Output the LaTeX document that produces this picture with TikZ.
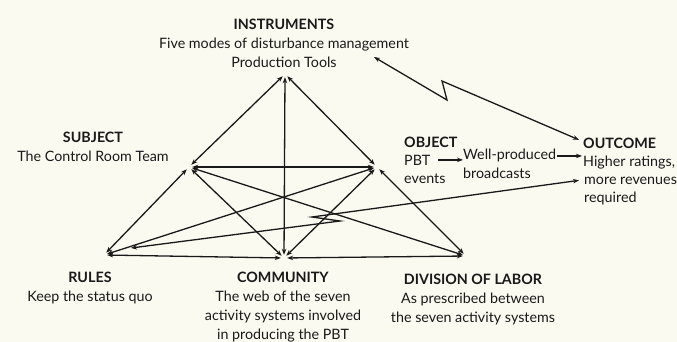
\documentclass[tikz,border=0pt]{standalone}
\usepackage{fontspec}
\setmainfont{Lato}
\usetikzlibrary{arrows.meta}
\definecolor{paper}{RGB}{251,250,241}
\definecolor{ink}{RGB}{25,25,25}
\begin{document}
\begin{tikzpicture}[x=1pt,y=-1pt,
  v/.style={circle,inner sep=0pt,minimum size=6pt},
  lk/.style={{Stealth[length=6pt,width=4.5pt]}-{Stealth[length=6pt,width=4.5pt]},line width=1.3pt,draw=ink},
  ar/.style={-{Stealth[length=6pt,width=4.5pt]},line width=1.3pt,draw=ink},
  blk/.style={font=\fontsize{14.3}{19}\selectfont,align=center,inner sep=0pt,text=ink},
  ln/.style={font=\fontsize{14.3}{19}\selectfont,inner sep=0pt,text=ink,anchor=base west},
]
\fill[paper] (0,0) rectangle (677,342);
\useasboundingbox (0,0) rectangle (677,342);

% vertices
\node[v] (ins) at (285,74) {};
\node[v] (sub) at (189,167) {};
\node[v] (obj) at (377,167) {};
\node[v] (rul) at (104,255) {};
\node[v] (com) at (284,258) {};
\node[v] (div) at (466,256) {};

% labels
\node[blk] (insL) at (284,43) {\textbf{INSTRUMENTS}\\Five modes of disturbance management\\Production Tools};
\node[blk] (subL) at (93,147) {\textbf{SUBJECT}\\The Control Room Team};
\node[blk] (rulL) at (90,288) {\textbf{RULES}\\Keep the status quo};
\node[blk] (comL) at (283,307) {\textbf{COMMUNITY}\\The web of the seven\\activity systems involved\\in producing the PBT};
\node[blk] (divL) at (473,299) {\textbf{DIVISION OF LABOR}\\As prescribed between\\the seven activity systems};

\node[ln] (objT) at (404,147) {\textbf{OBJECT}};
\node[ln] (pbt) at (404,165) {PBT};
\node[ln] (ev) at (404,183) {events};
\node[ln] (wp) at (463,160) {Well-produced};
\node[ln] (bc) at (463,178) {broadcasts};
\node[ln] (oc) at (583,148) {\textbf{OUTCOME}};
\node[ln] (hr) at (583,166) {Higher ratings,};
\node[ln] (mr) at (584,184) {more revenues};
\node[ln] (rq) at (584,202) {required};

% object -> outcome chain
\draw[ar] ([xshift=8pt]pbt.east) -- (pbt.east -| wp.west);
\draw[ar] ([xshift=1pt]wp.east) -- ([xshift=-1pt]wp.east -| hr.west);

% triangle connectors
\draw[lk] (ins) -- (sub);
\draw[lk] (ins) -- (obj);
\draw[lk] (ins) -- (com);
\draw[lk] (sub) -- (obj);
\draw[lk] (sub) -- (rul);
\draw[lk] (sub) -- (com);
\draw[lk] (sub) -- (div);
\draw[lk] (obj) -- (rul);
\draw[lk] (obj) -- (com);
\draw[lk] (obj) -- (div);
\draw[lk] (rul) -- (com);
\draw[lk] (com) -- (div);

% broken (contradiction) connectors
\coordinate (insR) at (374,57);
\coordinate (iz1) at (447,100);
\coordinate (iz2) at (442,81);
\draw[lk] (insR) -- (iz1) -- (iz2) -- ([shift={(-4pt,3pt)}]oc.west);

\coordinate (rulR) at (131,248);
\coordinate (rz1) at (340,221);
\coordinate (rz2) at (312,217);
\draw[lk] (rulR) -- (rz1) -- (rz2) -- ([xshift=-5pt]mr.west);
\end{tikzpicture}
\end{document}
